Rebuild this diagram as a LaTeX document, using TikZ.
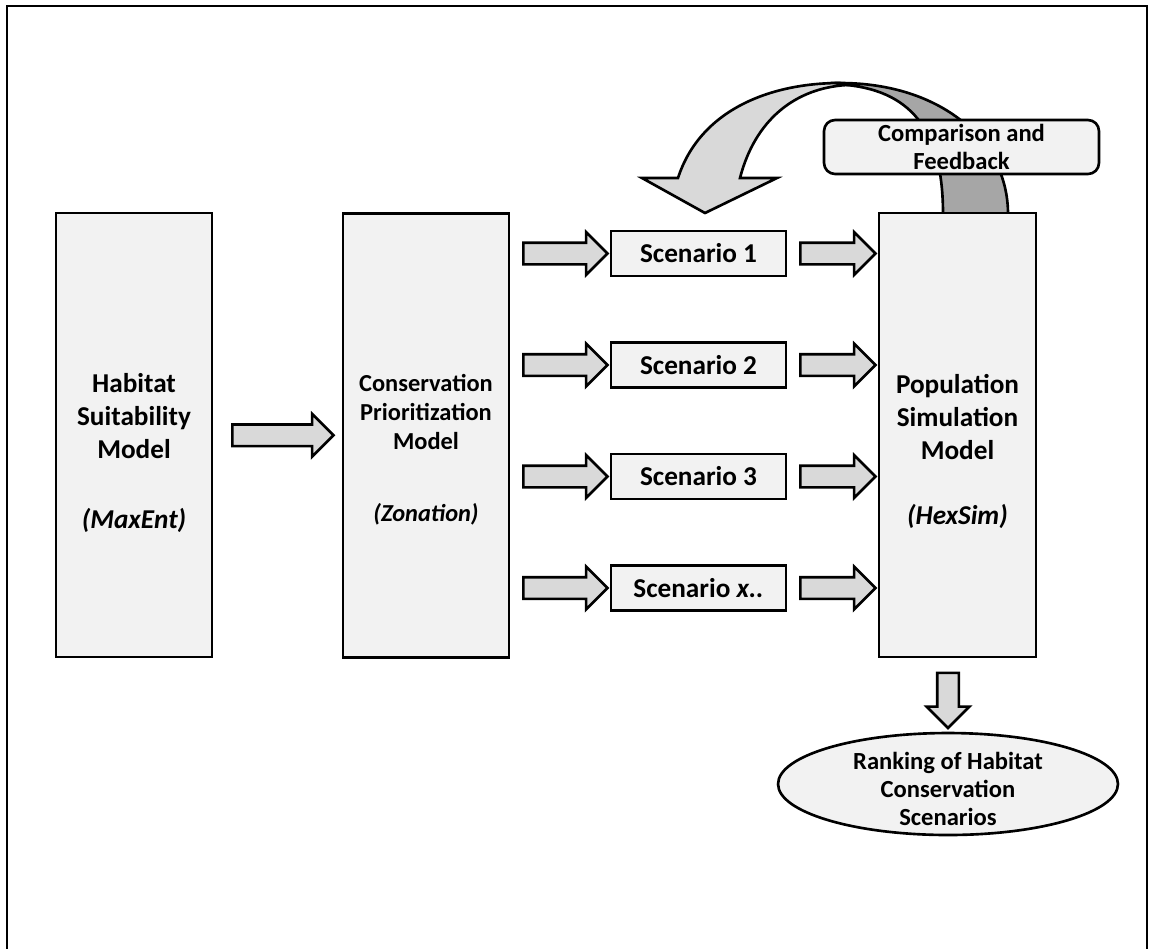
\documentclass[tikz,border=0pt]{standalone}
\usepackage{fontspec}
\setmainfont{Carlito}
\usetikzlibrary{shapes.arrows,shapes.geometric,calc}

\definecolor{boxgray}{HTML}{F2F2F2}
\definecolor{arrowgray}{HTML}{D9D9D9}
\definecolor{bandgray}{HTML}{A6A6A6}

\begin{document}
\begin{tikzpicture}[x=0.02cm, y=-0.02cm, font=\bfseries]
    % Define styles
    \tikzset{
        model/.style={rectangle, draw, line width=1.5pt, fill=boxgray, minimum height=8.88cm},
        modeltext/.style={align=center, inner sep=0pt, font=\fontsize{15.5}{18.7}\selectfont\bfseries},
        scenario/.style={rectangle, draw, line width=1.5pt, fill=boxgray, minimum width=3.50cm, minimum height=0.90cm, inner sep=0pt, font=\fontsize{15.5}{18.7}\selectfont\bfseries},
        blockarrow/.style={single arrow, draw, line width=1.5pt, fill=arrowgray, inner sep=0.19cm, single arrow head extend=0.21cm, single arrow head indent=0pt},
        feedback/.style={rectangle, rounded corners=0.22cm, draw, line width=1.5pt, fill=boxgray, minimum width=5.50cm, minimum height=1.08cm, inner sep=0pt, align=center, font=\fontsize{14}{16}\selectfont\bfseries},
        result/.style={ellipse, draw, line width=1.5pt, fill=boxgray, minimum width=6.80cm, minimum height=2.04cm, inner sep=0pt},
        resulttext/.style={align=center, inner sep=0pt, font=\fontsize{14}{16}\selectfont\bfseries},
        frame/.style={line width=1.5pt},
    }
    \useasboundingbox (0,0) rectangle (1149,948);

    % Frame
    \draw[frame] (7,950) -- (7,6) -- (1147,6) -- (1147,950);

    % Curved feedback arrow (back band, then front band with head)
    \draw[line width=1.5pt, fill=bandgray] (840,83) .. controls (940,83) and (1008,140) .. (1008,214)
        -- (943,214) .. controls (943,135) and (915,92) .. (847,85) -- cycle;
    \draw[line width=1.5pt, fill=arrowgray] (678,178) .. controls (700,110) and (770,83) .. (840,83)
        -- (847,85) .. controls (795,88) and (755,120) .. (740,178)
        -- (777,178) -- (705,213) -- (642,178) -- cycle;

    % Models
    \node[model, minimum width=3.12cm] (hsm) at (134,435) {};
    \node[modeltext] (hsmtext) at (134,453) {Habitat\\Suitability\\Model\\[0.74cm]\textit{(MaxEnt)}};

    \node[model, minimum width=3.32cm] (cpm) at (426,435.5) {};
    \node[modeltext, font=\fontsize{13.9}{16.5}\selectfont\bfseries] (cpmtext) at (426,450) {Conservation\\Prioritization\\Model\\[0.86cm]\textit{(Zonation)}};

    \node[model, minimum width=3.14cm] (psm) at (957.5,435) {};
    \node[modeltext] (psmtext) at (957.5,451.5) {Population\\Simulation\\Model\\[0.64cm]\textit{(HexSim)}};

    % Scenarios
    \node[scenario] (s1) at (698.5,253.5) {Scenario 1};
    \node[scenario] (s2) at (698.5,365) {Scenario 2};
    \node[scenario] (s3) at (698.5,476.5) {Scenario 3};
    \node[scenario] (sx) at (698.5,588) {Scenario \textit{x..}};

    % Feedback and result
    \node[feedback] (cf) at (961.5,147) {Comparison and\\Feedback};
    \node[result] (rank) at (948,784) {};
    \node[resulttext] (ranktext) at (948,789) {Ranking of Habitat\\Conservation\\Scenarios};

    % Arrows
    \node[blockarrow, minimum height=2.02cm] (a0) at ($(hsm.east)!0.5!(cpm.west)$) {};
    \foreach \s in {s1,s2,s3,sx} {
        \node[blockarrow, minimum height=1.68cm] (in\s) at ($(cpm.east |- \s.west)!0.5!(\s.west)$) {};
        \node[blockarrow, minimum height=1.50cm] (out\s) at ($(\s.east)!0.5!(psm.west |- \s.east)$) {};
    }
    \node[blockarrow, minimum height=1.10cm, shape border rotate=270] (adown) at ($(rank.north |- psm.south)!0.5!(rank.north)$) {};
\end{tikzpicture}
\end{document}
